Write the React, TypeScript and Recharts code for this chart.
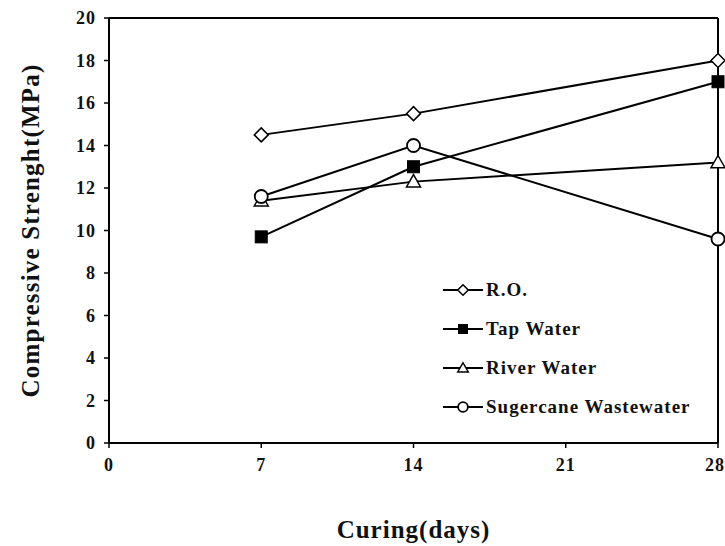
import React from 'react';
import {LineChart, Line, XAxis, YAxis, ReferenceLine} from 'recharts';

const days = [7, 14, 28];
const roValues = [14.5, 15.5, 18];
const tapValues = [9.7, 13, 17];
const riverValues = [11.4, 12.3, 13.2];
const sugarcaneValues = [11.6, 14, 9.6];
const xTicks = [0, 7, 14, 21, 28];
const yTicks = [0, 2, 4, 6, 8, 10, 12, 14, 16, 18, 20];
const seriesNames = ['R.O.', 'Tap Water', 'River Water', 'Sugercane Wastewater'];

const data = days.map((d, i) => ({
    day: d,
    ro: roValues[i],
    tap: tapValues[i],
    river: riverValues[i],
    sugar: sugarcaneValues[i],
}));

const font = '"Liberation Serif", "Times New Roman", serif';

function Marker({kind, cx, cy, s = 1}: any) {
    if (kind === 'diamond') {
        const r = 7 * s;
        return <polygon points={`${cx},${cy - r} ${cx + r},${cy} ${cx},${cy + r} ${cx - r},${cy}`} fill="#fff" stroke="#000" strokeWidth={1.5} />;
    }
    if (kind === 'square') {
        const r = 6 * s;
        return <rect x={cx - r} y={cy - r} width={2 * r} height={2 * r} fill="#000" stroke="#000" />;
    }
    if (kind === 'triangle') {
        const r = 7 * s;
        return <polygon points={`${cx},${cy - r} ${cx + r},${cy + r * 0.75} ${cx - r},${cy + r * 0.75}`} fill="#fff" stroke="#000" strokeWidth={1.5} />;
    }
    return <circle cx={cx} cy={cy} r={6.5 * s} fill="#fff" stroke="#000" strokeWidth={1.8} />;
}

const kinds = ['diamond', 'square', 'triangle', 'circle'];

const dotFor = (kind: string) => (props: any) => (
    <Marker key={`${kind}-${props.index}`} kind={kind} cx={props.cx} cy={props.cy} />
);

function LegendBox() {
    return (
        <svg width={285} height={150} style={{display: 'block'}}>
            {seriesNames.map((name, i) => {
                const y = 12 + i * 39;
                return (
                    <g key={name}>
                        <line x1={3} y1={y} x2={43} y2={y} stroke="#000" strokeWidth={2} />
                        <Marker kind={kinds[i]} cx={23} cy={y} s={0.75} />
                        <text x={46} y={y + 6} fontFamily={font} fontWeight="bold" fontSize={19}
                              letterSpacing={1} fill="#111">{name}</text>
                    </g>
                );
            })}
        </svg>
    );
}

export default function App() {
    return (
        <div style={{position: 'absolute', left: 0, top: 0, width: 725, height: 546, background: '#fff'}}>
            <LineChart width={725} height={546} data={data}
                       margin={{top: 18, right: 7, left: 0, bottom: 0}}>
                <XAxis dataKey="day" type="number" domain={[0, 28]} ticks={xTicks}
                       height={103} axisLine={{stroke: '#000', strokeWidth: 2}}
                       tickLine={{stroke: '#000', strokeWidth: 1.5}} tickSize={5}
                       tick={{fill: '#111', fontFamily: font, fontWeight: 'bold', fontSize: 18, letterSpacing: 1, dy: 8}}
                       label={{value: 'Curing(days)', position: 'insideBottom', offset: 8,
                           style: {fill: '#111', fontFamily: font, fontWeight: 'bold', fontSize: 25, letterSpacing: 1}}} />
                <YAxis type="number" domain={[0, 20]} ticks={yTicks} width={109}
                       axisLine={{stroke: '#000', strokeWidth: 2}}
                       tickLine={{stroke: '#000', strokeWidth: 1.5}} tickSize={5}
                       tick={{fill: '#111', fontFamily: font, fontWeight: 'bold', fontSize: 18, letterSpacing: 1, dx: -6}}
                       label={{value: 'Compressive Strenght(MPa)', angle: -90, position: 'insideLeft', offset: 30,
                           style: {textAnchor: 'middle', fill: '#111', fontFamily: font, fontWeight: 'bold', fontSize: 25, letterSpacing: 1.2}}} />
                <ReferenceLine y={20} stroke="#000" strokeWidth={2} />
                <ReferenceLine x={28} stroke="#000" strokeWidth={2} />
                <Line dataKey="ro" name={seriesNames[0]} stroke="#000" strokeWidth={2} dot={dotFor('diamond')} isAnimationActive={false} />
                <Line dataKey="tap" name={seriesNames[1]} stroke="#000" strokeWidth={2} dot={dotFor('square')} isAnimationActive={false} />
                <Line dataKey="river" name={seriesNames[2]} stroke="#000" strokeWidth={2} dot={dotFor('triangle')} isAnimationActive={false} />
                <Line dataKey="sugar" name={seriesNames[3]} stroke="#000" strokeWidth={2} dot={dotFor('circle')} isAnimationActive={false} />
            </LineChart>
            <div style={{position: 'absolute', left: 440, top: 278}}>
                <LegendBox />
            </div>
        </div>
    );
}
